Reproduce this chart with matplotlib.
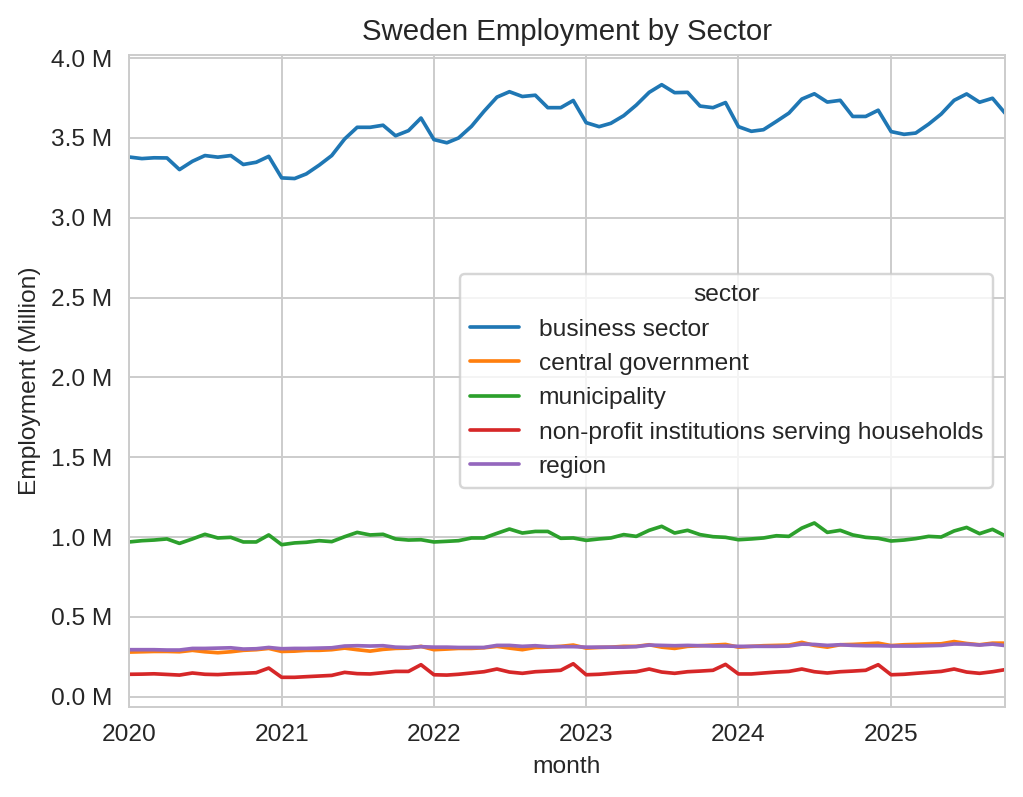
import numpy as np
import pandas as pd
import matplotlib
matplotlib.use("Agg")
import matplotlib.pyplot as plt
import matplotlib.dates as mdates
from matplotlib.ticker import FuncFormatter, MultipleLocator
import seaborn as sns

# ---- data (millions), monthly 2020-01 .. 2025-10 ----
months = pd.date_range("2020-01-01", "2025-10-01", freq="MS")

business_sector = [
    3.381, 3.371, 3.376, 3.375, 3.302, 3.354, 3.390, 3.380, 3.390, 3.334, 3.348, 3.385,
    3.250, 3.246, 3.275, 3.330, 3.390, 3.494, 3.567, 3.567, 3.580, 3.514, 3.546, 3.625,
    3.490, 3.470, 3.500, 3.573, 3.667, 3.756, 3.790, 3.760, 3.768, 3.690, 3.690, 3.735,
    3.596, 3.571, 3.592, 3.640, 3.706, 3.786, 3.834, 3.784, 3.786, 3.700, 3.690, 3.722,
    3.571, 3.542, 3.552, 3.604, 3.656, 3.744, 3.777, 3.725, 3.736, 3.635, 3.635, 3.674,
    3.540, 3.523, 3.531, 3.587, 3.650, 3.736, 3.776, 3.724, 3.749, 3.656,
]
central_government = [
    0.279, 0.281, 0.283, 0.283, 0.281, 0.290, 0.281, 0.275, 0.281, 0.290, 0.294, 0.302,
    0.283, 0.285, 0.290, 0.290, 0.294, 0.304, 0.294, 0.285, 0.296, 0.302, 0.304, 0.315,
    0.294, 0.298, 0.302, 0.302, 0.306, 0.315, 0.304, 0.294, 0.308, 0.310, 0.315, 0.323,
    0.304, 0.308, 0.310, 0.315, 0.315, 0.325, 0.310, 0.302, 0.315, 0.319, 0.323, 0.327,
    0.310, 0.315, 0.319, 0.321, 0.323, 0.340, 0.321, 0.310, 0.325, 0.327, 0.331, 0.335,
    0.320, 0.325, 0.327, 0.329, 0.331, 0.345, 0.333, 0.325, 0.335, 0.335,
]
municipality = [
    0.969, 0.977, 0.981, 0.988, 0.960, 0.988, 1.017, 0.994, 0.998, 0.969, 0.969, 1.013,
    0.952, 0.963, 0.967, 0.977, 0.971, 1.002, 1.029, 1.013, 1.017, 0.988, 0.981, 0.983,
    0.969, 0.973, 0.977, 0.994, 0.994, 1.023, 1.050, 1.025, 1.035, 1.035, 0.992, 0.994,
    0.979, 0.988, 0.994, 1.015, 1.004, 1.042, 1.067, 1.025, 1.042, 1.015, 1.002, 0.998,
    0.983, 0.988, 0.994, 1.008, 1.004, 1.056, 1.088, 1.029, 1.042, 1.013, 0.998, 0.992,
    0.975, 0.981, 0.990, 1.004, 1.000, 1.038, 1.060, 1.021, 1.048, 1.008,
]
non_profit = [
    0.140, 0.141, 0.143, 0.139, 0.135, 0.148, 0.140, 0.138, 0.143, 0.146, 0.150, 0.179,
    0.121, 0.121, 0.125, 0.129, 0.133, 0.152, 0.144, 0.142, 0.150, 0.158, 0.158, 0.200,
    0.137, 0.135, 0.140, 0.148, 0.156, 0.173, 0.154, 0.146, 0.156, 0.160, 0.165, 0.206,
    0.137, 0.140, 0.146, 0.152, 0.156, 0.173, 0.154, 0.146, 0.156, 0.160, 0.165, 0.202,
    0.142, 0.142, 0.148, 0.154, 0.158, 0.173, 0.156, 0.148, 0.156, 0.160, 0.165, 0.200,
    0.137, 0.140, 0.146, 0.152, 0.158, 0.173, 0.154, 0.146, 0.156, 0.169,
]
region = [
    0.294, 0.294, 0.294, 0.292, 0.292, 0.302, 0.302, 0.304, 0.306, 0.298, 0.300, 0.308,
    0.300, 0.302, 0.302, 0.304, 0.306, 0.317, 0.319, 0.317, 0.319, 0.310, 0.308, 0.313,
    0.310, 0.310, 0.308, 0.308, 0.308, 0.321, 0.321, 0.315, 0.319, 0.313, 0.313, 0.313,
    0.310, 0.310, 0.310, 0.310, 0.313, 0.323, 0.321, 0.319, 0.321, 0.319, 0.317, 0.317,
    0.315, 0.315, 0.315, 0.315, 0.317, 0.329, 0.327, 0.321, 0.325, 0.321, 0.319, 0.319,
    0.317, 0.317, 0.317, 0.319, 0.321, 0.330, 0.329, 0.323, 0.329, 0.320,
]

sectors = ["business sector", "central government", "municipality",
           "non-profit institutions serving households", "region"]
series = [business_sector, central_government, municipality, non_profit, region]

# ---- plot ----
DPI = 176
sns.set_style("whitegrid")
plt.rcParams["font.family"] = ["Liberation Sans", "DejaVu Sans"]

fig = plt.figure(figsize=(1023 / DPI, 797 / DPI), dpi=DPI)
ax = fig.add_axes([129 / 1023, 1 - 707 / 797, (1005 - 129) / 1023, (707 - 55) / 797])

colors = sns.color_palette("tab10")
for i, (name, vals) in enumerate(zip(sectors, series)):
    ax.plot(months, vals, color=colors[i], lw=1.5, label=name)

ax.set_xlim(months[0], months[-1])
ax.set_ylim(-0.065, 4.02)
ax.yaxis.set_major_locator(MultipleLocator(0.5))
ax.yaxis.set_major_formatter(FuncFormatter(lambda v, p: f"{v:.1f} M"))
ax.xaxis.set_major_locator(mdates.YearLocator())
ax.xaxis.set_major_formatter(mdates.DateFormatter("%Y"))

ax.set_title("Sweden Employment by Sector")
ax.set_xlabel("month")
ax.set_ylabel("Employment (Million)")
ax.legend(title="sector", loc="center right")

fig.savefig("out.png", dpi=DPI)
